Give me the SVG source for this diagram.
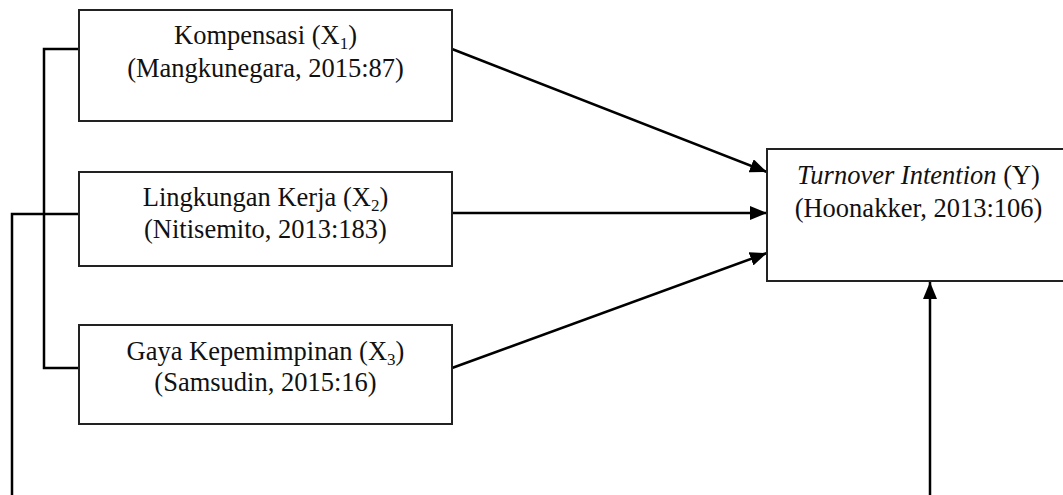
<svg xmlns="http://www.w3.org/2000/svg" width="1063" height="495" viewBox="0 0 1063 495">
<style>
.box{fill:#fff;stroke:#222;stroke-width:2}
.t{font-family:"Liberation Serif","Times New Roman",serif;font-size:26.5px;fill:#111;text-anchor:middle}
.sub{font-size:17px}
.ln{fill:none;stroke:#000;stroke-width:2.5}
</style>
<defs>
<marker id="ah" markerUnits="userSpaceOnUse" markerWidth="18" markerHeight="14" refX="17" refY="7" orient="auto">
<path d="M0,0 L17,7 L0,14 z" fill="#000"/>
</marker>
</defs>
<g id="connectors">
<polyline class="ln" points="79,49 44,49 44,368 79,368"/>
<polyline class="ln" points="12,495 12,214 79,214"/>
<line class="ln" x1="452" y1="49" x2="767" y2="172" marker-end="url(#ah)"/>
<line class="ln" x1="452" y1="213" x2="767" y2="213" marker-end="url(#ah)"/>
<line class="ln" x1="452" y1="368" x2="767" y2="253" marker-end="url(#ah)"/>
<line class="ln" x1="930" y1="495" x2="930" y2="282" marker-end="url(#ah)"/>
</g>
<g id="x1">
<rect class="box" x="79" y="10" width="373" height="111"/>
<text class="t" x="265.5" y="44">Kompensasi (X<tspan class="sub" dy="5">1</tspan><tspan dy="-5">)</tspan></text>
<text class="t" x="265.5" y="76.5">(Mangkunegara, 2015:87)</text>
</g>
<g id="x2">
<rect class="box" x="79" y="172" width="373" height="94"/>
<text class="t" x="265.5" y="206">Lingkungan Kerja (X<tspan class="sub" dy="5">2</tspan><tspan dy="-5">)</tspan></text>
<text class="t" x="265.5" y="237.5">(Nitisemito, 2013:183)</text>
</g>
<g id="x3">
<rect class="box" x="79" y="325" width="373" height="99"/>
<text class="t" x="265.5" y="360">Gaya Kepemimpinan (X<tspan class="sub" dy="5">3</tspan><tspan dy="-5">)</tspan></text>
<text class="t" x="265.5" y="391">(Samsudin, 2015:16)</text>
</g>
<g id="y">
<rect class="box" x="767" y="149" width="306" height="132"/>
<text class="t" x="918.5" y="184"><tspan font-style="italic">Turnover Intention</tspan> (Y)</text>
<text class="t" x="918.5" y="216.5">(Hoonakker, 2013:106)</text>
</g>
</svg>
